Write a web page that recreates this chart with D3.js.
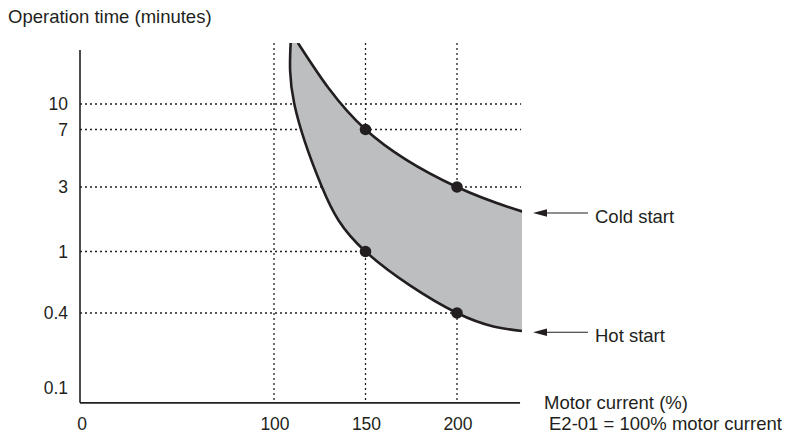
<!DOCTYPE html>
<html>
<head>
<meta charset="utf-8">
<script src="https://cdn.jsdelivr.net/npm/d3@7"></script>
<style>
  body { margin: 0; background: #fff; }
  svg text { font-family: "Liberation Sans", Arial, sans-serif; fill: #231f20; }
</style>
</head>
<body>
<div id="chart"></div>
<script>
const width = 786;
const height = 438;
const ink = "#231f20";

// data
const xTicks = [0, 100, 150, 200];
const xGrid = [100, 150, 200];
const yTicks = [0.1, 0.4, 1, 3, 7, 10];
const yGrid = [0.4, 1, 3, 7, 10];
const xMax = 235;
const yTop = 23.5;
const yAxisTop = 21.3;
const yMin = 0.076;

// [motor current %, minutes]
const coldStart = [[113.1, 23.5], [150, 7], [200, 3], [236, 1.97]];
const hotStart = [[109.1, 23.5], [111.1, 10], [126.2, 3], [150, 1], [200, 0.4], [235.5, 0.287]];
const markers = [[150, 7], [200, 3], [150, 1], [200, 0.4]];
const curveLabels = ["Cold start", "Hot start"];

const svg = d3.select("#chart")
  .append("svg")
  .attr("width", width)
  .attr("height", height);

// schematic axes, so the scales are piecewise
const x = d3.scaleLinear()
  .domain([0, 100, 200])
  .range([80, 274, 457]);

const y = d3.scaleLog()
  .domain(yTicks)
  .range([388, 313, 251.5, 187, 129.5, 104]);

svg.append("defs").append("clipPath")
  .attr("id", "plot")
  .append("rect")
  .attr("x", x(0))
  .attr("y", y(yTop))
  .attr("width", x(xMax) - x(0) + 1)
  .attr("height", y(yMin) - y(yTop));

// gridlines
const grid = svg.append("g")
  .attr("stroke", ink)
  .attr("stroke-width", 1.3)
  .attr("stroke-dasharray", "2,3");

grid.selectAll("line.h")
  .data(yGrid)
  .join("line")
  .attr("class", "h")
  .attr("x1", x(0))
  .attr("x2", x(xMax))
  .attr("y1", d => y(d))
  .attr("y2", d => y(d));

grid.selectAll("line.v")
  .data(xGrid)
  .join("line")
  .attr("class", "v")
  .attr("x1", d => x(d))
  .attr("x2", d => x(d))
  .attr("y1", y(yTop))
  .attr("y2", y(yMin));

// shaded band between the two curves
const line = d3.line()
  .x(d => x(d[0]))
  .y(d => y(d[1]))
  .curve(d3.curveNatural);

const band = line(coldStart) + "L" + line(hotStart.slice().reverse()).slice(1) + "Z";

const plot = svg.append("g").attr("clip-path", "url(#plot)");

plot.append("path")
  .attr("d", band)
  .attr("fill", "#bcbec0");

plot.selectAll("path.curve")
  .data([coldStart, hotStart])
  .join("path")
  .attr("class", "curve")
  .attr("d", line)
  .attr("fill", "none")
  .attr("stroke", ink)
  .attr("stroke-width", 2.6);

svg.selectAll("circle")
  .data(markers)
  .join("circle")
  .attr("cx", d => x(d[0]))
  .attr("cy", d => y(d[1]))
  .attr("r", 5.8)
  .attr("fill", ink);

// axes
svg.append("line")
  .attr("x1", x(0)).attr("x2", x(0))
  .attr("y1", y(yAxisTop)).attr("y2", y(yMin))
  .attr("stroke", ink).attr("stroke-width", 1.6);

svg.append("line")
  .attr("x1", x(0)).attr("x2", x(xMax) - 1)
  .attr("y1", y(yMin)).attr("y2", y(yMin))
  .attr("stroke", ink).attr("stroke-width", 1.6);

svg.selectAll("text.ytick")
  .data(yTicks)
  .join("text")
  .attr("class", "ytick")
  .attr("x", 68)
  .attr("y", d => y(d))
  .attr("dy", "0.36em")
  .attr("text-anchor", "end")
  .attr("font-size", 17.5)
  .text(d => d);

svg.selectAll("text.xtick")
  .data(xTicks)
  .join("text")
  .attr("class", "xtick")
  .attr("x", d => x(d) + (d === 0 ? 2 : 1))
  .attr("y", 430)
  .attr("text-anchor", "middle")
  .attr("font-size", 17.5)
  .text(d => d);

svg.append("text")
  .attr("x", 8)
  .attr("y", 23)
  .attr("font-size", 18.5)
  .text("Operation time (minutes)");

svg.append("text")
  .attr("x", 544)
  .attr("y", 409)
  .attr("font-size", 18.5)
  .text("Motor current (%)");

svg.append("text")
  .attr("x", 549)
  .attr("y", 430)
  .attr("font-size", 18.5)
  .text("E2-01 = 100% motor current");

// arrows pointing at curve ends
const ends = [coldStart[coldStart.length - 1], hotStart[hotStart.length - 1]];
const arrows = svg.selectAll("g.arrow")
  .data(ends)
  .join("g")
  .attr("class", "arrow")
  .attr("transform", d => `translate(0,${y(d[1]) + 1.3})`);

arrows.append("line")
  .attr("x1", 544).attr("x2", 588)
  .attr("stroke", ink).attr("stroke-width", 1.2);

arrows.append("path")
  .attr("d", "M533,0L547,-3.8L547,3.8Z")
  .attr("fill", ink);

arrows.append("text")
  .attr("x", 595)
  .attr("y", 10)
  .attr("font-size", 18.5)
  .text((d, i) => curveLabels[i]);
</script>
</body>
</html>
